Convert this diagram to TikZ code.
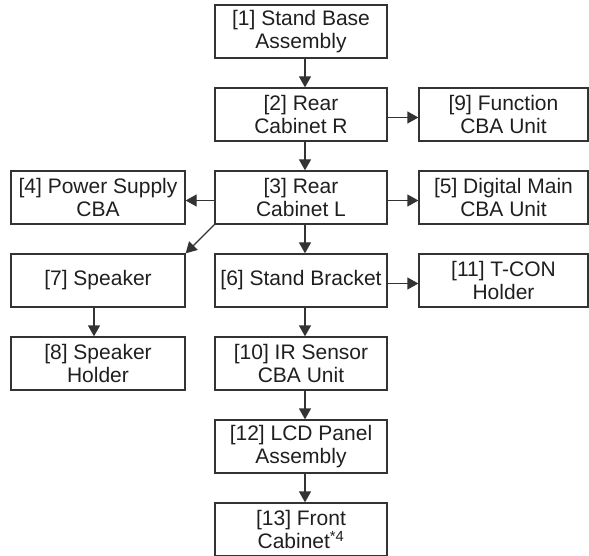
\documentclass[tikz,border=0pt]{standalone}
\usepackage{fontspec}
\setmainfont{Liberation Sans}
\usetikzlibrary{arrows.meta}
\begin{document}
\begin{tikzpicture}[x=1pt,y=-1pt,
  box/.style={draw=black!80, line width=1.3pt, align=center, inner sep=0pt,
    font=\fontsize{21}{23.5}\selectfont, text=black!88, minimum height=53pt},
  lc/.style={box, minimum width=174pt},
  cc/.style={box, minimum width=172pt},
  rc/.style={box, minimum width=169pt},
  arr/.style={draw=black!80, line width=1.3pt, -{Triangle[length=11pt,width=12pt]}}]
\useasboundingbox (0,0) rectangle (589,556);
% center column
\node[cc] (n1)  at (301,31.5)  {[1] Stand Base\\Assembly};
\node[cc] (n2)  at (301,114.5) {[2] Rear\\Cabinet R};
\node[cc] (n3)  at (301,197.5) {[3] Rear\\Cabinet L};
\node[cc] (n6)  at (301,280.5) {[6] Stand Bracket};
\node[cc] (n10) at (301,363.5) {[10] IR Sensor\\CBA Unit};
\node[cc] (n12) at (301,446.5) {[12] LCD Panel\\Assembly};
\node[cc] (n13) at (301,529.5) {[13] Front\\Cabinet\textsuperscript{*4}};
% left column
\node[lc] (n4)  at (98,197.5)  {[4] Power Supply\\CBA};
\node[lc] (n7)  at (98,280.5)  {[7] Speaker};
\node[lc] (n8)  at (98,363.5)  {[8] Speaker\\Holder};
% right column
\node[rc] (n9)  at (503.5,114.5) {[9] Function\\CBA Unit};
\node[rc] (n5)  at (503.5,197.5) {[5] Digital Main\\CBA Unit};
\node[rc] (n11) at (503.5,280.5) {[11] T-CON\\Holder};
% vertical arrows
\draw[arr] ([xshift=4pt]n1.south)  -- ([xshift=4pt]n2.north);
\draw[arr] ([xshift=4pt]n2.south)  -- ([xshift=4pt]n3.north);
\draw[arr] ([xshift=4pt]n3.south)  -- ([xshift=4pt]n6.north);
\draw[arr] ([xshift=4pt]n6.south)  -- ([xshift=4pt]n10.north);
\draw[arr] ([xshift=4pt]n10.south) -- ([xshift=4pt]n12.north);
\draw[arr] ([xshift=4pt]n12.south) -- ([xshift=4pt]n13.north);
\draw[arr] ([xshift=-4pt]n7.south) -- ([xshift=-4pt]n8.north);
% horizontal arrows
\draw[arr] ([yshift=-3pt]n2.east) -- ([yshift=-3pt]n9.west);
\draw[arr] ([yshift=-3pt]n3.east) -- ([yshift=-3pt]n5.west);
\draw[arr] ([yshift=-3pt]n6.east) -- ([yshift=-3pt]n11.west);
\draw[arr] ([yshift=-3pt]n3.west) -- ([yshift=-3pt]n4.east);
% diagonal
\draw[arr] (n3.south west) -- (n7.north east);
\end{tikzpicture}
\end{document}
